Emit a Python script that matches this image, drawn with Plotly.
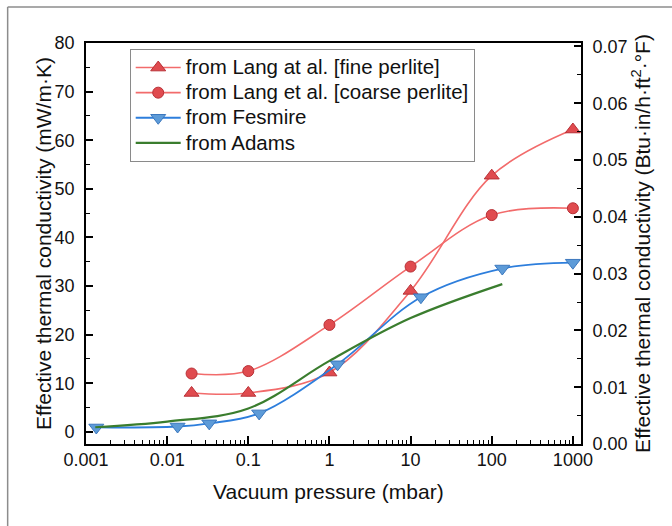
import plotly.graph_objects as go

# ---- data ----
fine_p = [0.02, 0.1, 1, 10, 100, 1000]
fine_k = [8.0, 8.0, 12.2, 29.0, 52.7, 62.2]

coarse_p = [0.02, 0.1, 1, 10, 100, 1000]
coarse_k = [12.0, 12.5, 22.0, 34.0, 44.6, 46.0]

fes_p = [0.00134, 0.01345, 0.033, 0.136, 1.26, 13.4, 135, 1000]
fes_k = [0.9, 1.1, 1.75, 3.8, 13.9, 27.7, 33.6, 34.8]

adams_p = [0.0013, 0.01, 0.1, 1, 10, 135]
adams_k = [0.95, 2.1, 4.8, 14.6, 23.4, 30.4]

x_tickvals = [0.001, 0.01, 0.1, 1, 10, 100, 1000]
x_ticktext = ["0.001", "0.01", "0.1", "1", "10", "100", "1000"]

series_names = ["from Lang at al. [fine perlite]",
                "from Lang et al. [coarse perlite]",
                "from Fesmire",
                "from Adams"]

FONT = "Liberation Sans, Arial, sans-serif"
RED_LINE = "#F26B6B"
RED_FILL = "#E04B4F"
RED_EDGE = "#B83036"
BLUE_LINE = "#2D7EDC"
BLUE_FILL = "#5D9BD8"
BLUE_EDGE = "#3C78BE"
GREEN = "#3A7D2E"


def leg(name):
    return '<span style="font-size:20.5px">' + name + '</span>'


fig = go.Figure()

fig.add_trace(go.Scatter(
    x=fine_p, y=fine_k, name=leg(series_names[0]),
    mode="lines+markers", line=dict(color=RED_LINE, width=1.6, shape="spline"),
    marker=dict(symbol="triangle-up", size=13, color=RED_FILL,
                line=dict(color=RED_EDGE, width=1))))
fig.add_trace(go.Scatter(
    x=coarse_p, y=coarse_k, name=leg(series_names[1]),
    mode="lines+markers", line=dict(color=RED_LINE, width=1.6, shape="spline"),
    marker=dict(symbol="circle", size=11, color=RED_FILL,
                line=dict(color=RED_EDGE, width=1))))
fig.add_trace(go.Scatter(
    x=fes_p, y=fes_k, name=leg(series_names[2]),
    mode="lines+markers", line=dict(color=BLUE_LINE, width=1.8, shape="spline"),
    marker=dict(symbol="triangle-down", size=13, color=BLUE_FILL,
                line=dict(color=BLUE_EDGE, width=1))))
fig.add_trace(go.Scatter(
    x=adams_p, y=adams_k, name=leg(series_names[3]),
    mode="lines", line=dict(color=GREEN, width=2.2, shape="spline")))

# invisible trace to anchor the right-hand axis
fig.add_trace(go.Scatter(x=[None], y=[None], yaxis="y2", showlegend=False,
                         hoverinfo="skip"))

axis_common = dict(
    showline=True, linecolor="black", linewidth=1.8,
    ticks="inside", tickcolor="black", tickwidth=1.5,
    showgrid=False, zeroline=False,
    tickfont=dict(family=FONT, size=18, color="#111"),
)

fig.update_layout(
    width=672, height=526,
    margin=dict(l=85.5, r=90.5, t=43, b=82, pad=0),
    paper_bgcolor="white", plot_bgcolor="white",
    font=dict(family=FONT, color="#111"),
    xaxis=dict(type="log", range=[-3.0, 3.1], tickvals=x_tickvals,
               ticktext=x_ticktext, ticklen=8, mirror=True,
               ticklabelstandoff=-2,
               minor=dict(ticks="inside", ticklen=4, tickcolor="black",
                          tickwidth=1.2, dtick="D1", showgrid=False),
               **axis_common),
    yaxis=dict(range=[-2.5, 80], dtick=10, tick0=0, ticklen=7,
               ticklabelstandoff=6,
               minor=dict(ticks="inside", ticklen=4, tickcolor="black",
                          tickwidth=1.2, dtick=5, showgrid=False),
               **axis_common),
    yaxis2=dict(overlaying="y", side="right", range=[0, 0.0706],
                dtick=0.01, tick0=0, tickformat=".2f", ticklen=7,
                ticklabelstandoff=6,
                minor=dict(ticks="inside", ticklen=4, tickcolor="black",
                           tickwidth=1.2, dtick=0.005, showgrid=False),
                **axis_common),
    legend=dict(x=0.0883, y=0.985, xanchor="left", yanchor="top",
                bgcolor="white", bordercolor="#8a8a8a", borderwidth=1,
                font=dict(family=FONT, size=17, color="#111"),
                itemwidth=45, tracegroupgap=0),
    showlegend=True,
)

ann_font = dict(family=FONT, size=21, color="#111")
fig.add_annotation(text="Vacuum pressure (mbar)", xref="paper", yref="paper",
                   x=0.49, y=-0.118, xanchor="center", yanchor="middle",
                   showarrow=False, font=ann_font)
fig.add_annotation(text="Effective thermal conductivity (mW/m·K)",
                   xref="paper", yref="paper", x=(43 - 85.5) / 496, y=0.5,
                   xanchor="center", yanchor="middle", textangle=-90,
                   showarrow=False, font=ann_font)
fig.add_annotation(text="Effective thermal conductivity (Btu·in/h·ft<sup>2</sup>·°F)",
                   xref="paper", yref="paper", x=(641 - 85.5) / 496, y=0.5,
                   xanchor="center", yanchor="middle", textangle=-90,
                   showarrow=False, font=ann_font)

# outer frame (left and top edges)
fx0 = (7 - 85.5) / 496
fy_top = (444 - 7) / 401
fig.add_shape(type="line", xref="paper", yref="paper", x0=fx0, x1=fx0,
              y0=fy_top, y1=(444 - 530) / 401,
              line=dict(color="#8c8c8c", width=1.5))
fig.add_shape(type="line", xref="paper", yref="paper", x0=fx0,
              x1=(680 - 85.5) / 496, y0=fy_top, y1=fy_top,
              line=dict(color="#8c8c8c", width=1.5))

fig.write_html("out.html")
